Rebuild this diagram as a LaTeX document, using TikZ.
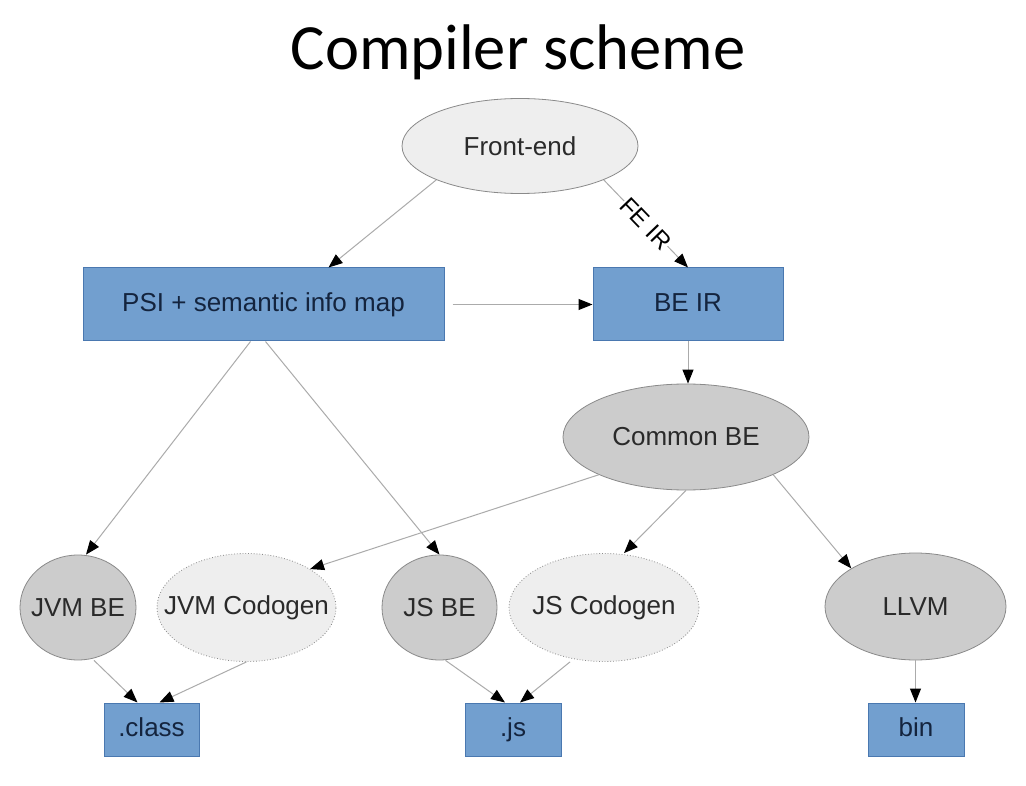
\documentclass[tikz,border=0pt]{standalone}
\usepackage{fontspec}
\setmainfont{Liberation Sans}
\newfontfamily\titlefont{Carlito}
\usetikzlibrary{shapes.geometric,arrows.meta}
\definecolor{boxblue}{HTML}{729FCF}
\definecolor{boxline}{HTML}{4A78B0}
\definecolor{ellgray}{HTML}{CCCCCC}
\definecolor{elllight}{HTML}{EEEEEE}
\definecolor{ellline}{HTML}{8A8A8A}
\definecolor{edgegray}{HTML}{ABABAB}
\definecolor{txtdark}{HTML}{2A2A2A}
\definecolor{txtnavy}{HTML}{14243E}
\begin{document}
\begin{tikzpicture}[x=1pt,y=-1pt,
  every node/.style={font=\fontsize{26}{30}\selectfont},
  bluebox/.style={draw=boxline,fill=boxblue,line width=1pt,rectangle,inner sep=0pt,text=txtnavy,
    text height=19pt,text depth=5.5pt},
  ellbase/.style={line width=0.8pt,ellipse,inner sep=0pt,
    label={[text=txtdark,font=\fontsize{26}{30}\selectfont]center:#1}},
  grayell/.style={ellbase=#1,draw=ellline,fill=ellgray},
  lightell/.style={ellbase=#1,draw=ellline,fill=elllight},
  dotell/.style={lightell=#1,dotted},
  edge/.style={draw=edgegray,line width=1pt,-{Triangle[length=14pt,width=11pt,color=black]}},
  edgelabel/.style={font=\fontsize{24}{28}\selectfont,text=black,fill=white,inner sep=0.5pt}
]
\path[use as bounding box,fill=white] (0,0) rectangle (1026,786);

\node[font=\titlefont\fontsize{64.5}{70}\selectfont,text=black] (title) at (518,52) {Compiler scheme};

\node[lightell={Front-end},minimum width=236pt,minimum height=95pt] (fe) at (520,146) {};
\node[bluebox,minimum width=361pt,minimum height=73pt] (psi) at (263.5,304.5) {PSI + semantic info map};
\node[bluebox,minimum width=190pt,minimum height=73pt] (beir) at (688,304.5) {BE IR};
\node[grayell={Common BE},minimum width=246pt,minimum height=106pt] (cbe) at (686,437) {};

\node[grayell={JVM BE},minimum width=116pt,minimum height=105pt] (jvmbe) at (78,607.5) {};
\node[dotell={JVM Codogen},minimum width=179pt,minimum height=108pt] (jvmcg) at (246.5,607.5) {};
\node[grayell={JS BE},minimum width=115pt,minimum height=105pt] (jsbe) at (439.5,607.5) {};
\node[dotell={JS Codogen},minimum width=190pt,minimum height=108pt] (jscg) at (604,607.5) {};
\node[grayell={LLVM},minimum width=181pt,minimum height=107pt] (llvm) at (915.5,606.5) {};

\node[bluebox,minimum width=95pt,minimum height=53pt] (class) at (151.5,729.5) {.class};
\node[bluebox,minimum width=96pt,minimum height=53pt] (js) at (513,729.5) {.js};
\node[bluebox,minimum width=96pt,minimum height=53pt] (bin) at (916,729.5) {bin};

% edges
\draw[edge] (fe.south west) -- ([xshift=65pt]psi.north);
\draw[edge] (fe.south east) -- node[edgelabel,sloped] (feir) {FE IR} (beir.north);
\draw[edge,shorten <=8pt] (psi.east) -- (beir.west);
\draw[edge] (beir.south) -- (beir.south |- cbe.north);

\draw[edge] ([xshift=-13pt]psi.south) -- ([xshift=8pt]jvmbe.north);
\draw[edge] ([xshift=2pt]psi.south) -- (jsbe.north);

\draw[edge] (cbe.south west) -- (jvmcg.north east);
\draw[edge] (cbe.south) -- ([xshift=20pt]jscg.north);
\draw[edge] (cbe.south east) -- (llvm.north west);

\draw[edge] ([xshift=16pt]jvmbe.south) -- ([xshift=-14pt]class.north);
\draw[edge] (jvmcg.south) -- ([xshift=8pt]class.north);
\draw[edge] ([xshift=6pt]jsbe.south) -- ([xshift=-8pt]js.north);
\draw[edge] ([xshift=-34pt]jscg.south) -- ([xshift=7pt]js.north);
\draw[edge] (llvm.south) -- (llvm.south |- bin.north);
\end{tikzpicture}
\end{document}
